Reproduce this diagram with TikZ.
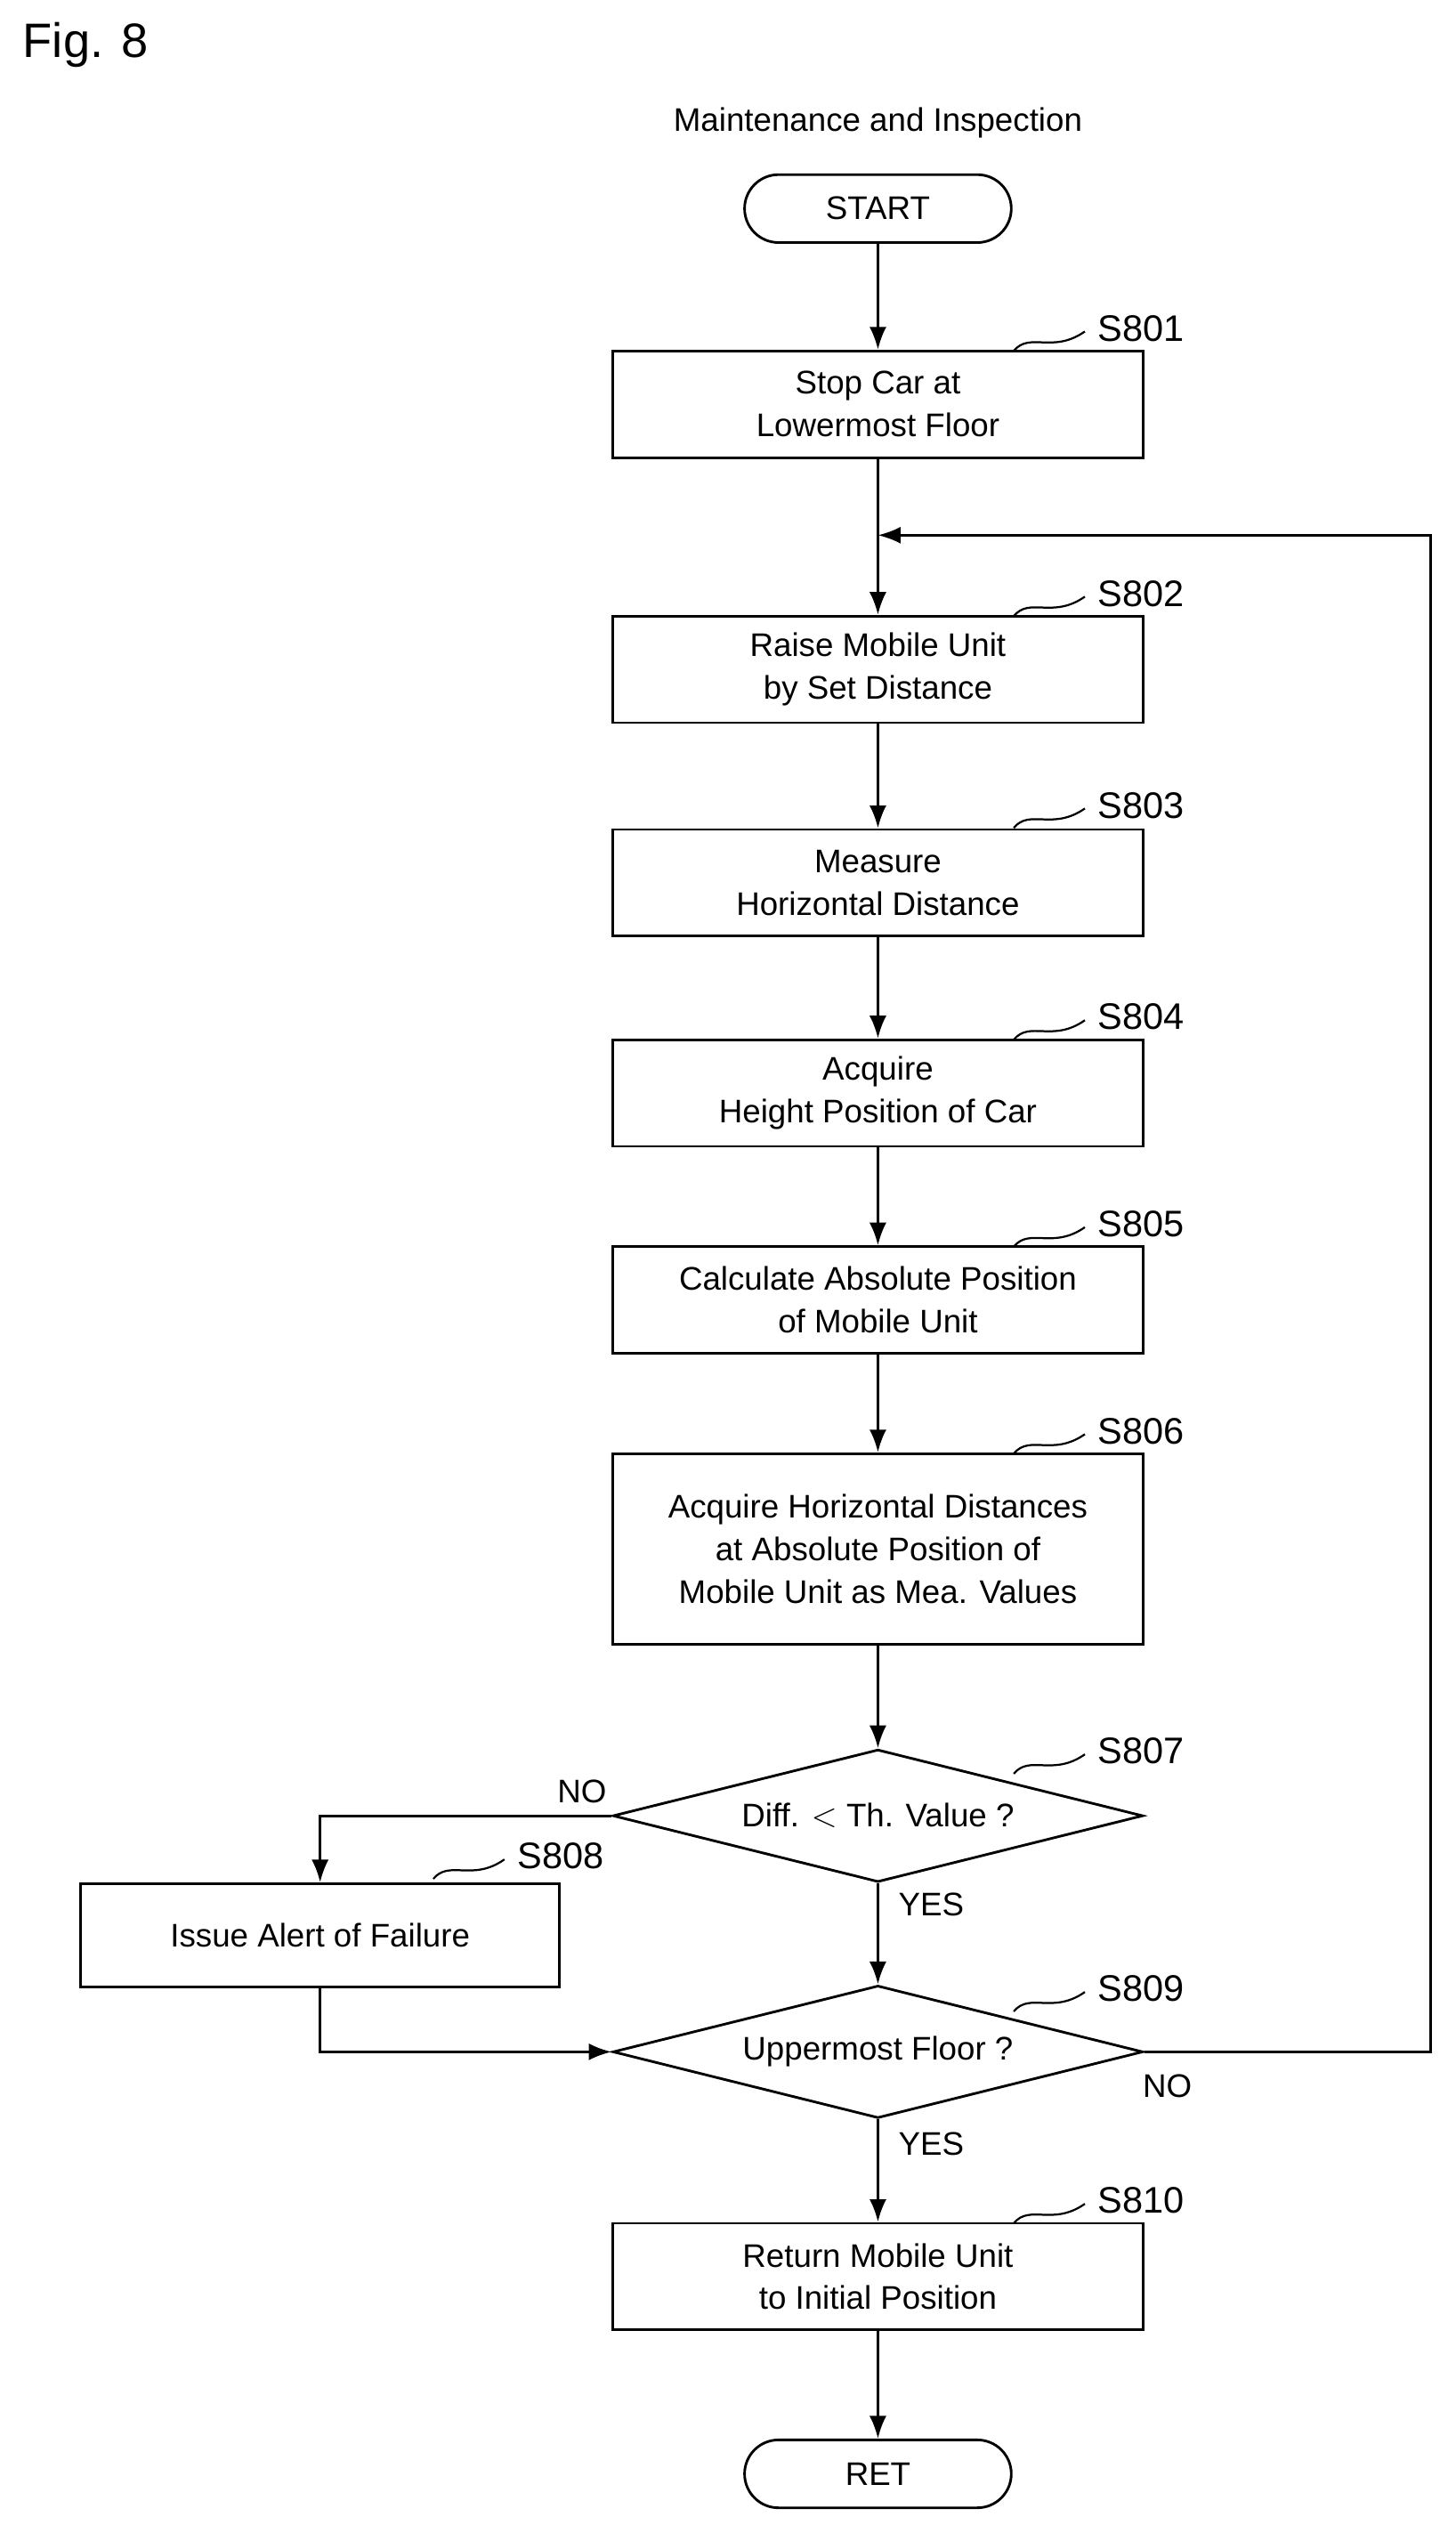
\documentclass[tikz,border=0pt]{standalone}
\usepackage{fontspec}
\setmainfont{Liberation Sans}
\usetikzlibrary{shapes.geometric,arrows.meta}
\begin{document}
\begin{tikzpicture}[x=0.02cm,y=-0.02cm,
  every node/.style={font=\fontsize{11.5}{15}\selectfont},
  box/.style={draw,line width=0.9pt,minimum width=6.56cm,minimum height=1.32cm,align=center,inner sep=0pt},
  term/.style={draw,line width=0.9pt,rounded corners=0.42cm,minimum width=3.3cm,minimum height=0.84cm,inner sep=0pt},
  dia/.style={draw,line width=0.9pt,diamond,aspect=4,minimum width=6.56cm,minimum height=1.64cm,inner sep=0pt},
  arr/.style={line width=0.9pt,-{Latex[length=8pt,width=6pt]}},
  ln/.style={line width=0.9pt},
  sq/.style={line width=0.7pt},
  lab/.style={anchor=west,font=\fontsize{13}{15}\selectfont}]
\useasboundingbox (0,0) rectangle (900,1566.6);
\node[anchor=west,font=\fontsize{17}{20}\selectfont] (fig) at (8,28) {Fig. 8};
\node (title) at (543,76) {Maintenance and Inspection};
\node[term] (start) at (543,129) {START};
\node[box] (s801) at (543,250) {Stop Car at\\Lowermost Floor};
\coordinate (join) at (543,331);
\node[box] (s802) at (543,414) {Raise Mobile Unit\\by Set Distance};
\node[box] (s803) at (543,546) {Measure\\Horizontal Distance};
\node[box] (s804) at (543,676) {Acquire\\Height Position of Car};
\node[box] (s805) at (543,804) {Calculate Absolute Position\\of Mobile Unit};
\node[box,minimum height=2.36cm] (s806) at (543,958) {Acquire Horizontal Distances\\at Absolute Position of\\Mobile Unit as Mea. Values};
\node[dia] (s807) at (543,1123) {Diff. $<$ Th. Value ?};
\node[box,minimum width=5.92cm,minimum height=1.28cm] (s808) at (198,1197) {Issue Alert of Failure};
\node[dia] (s809) at (543,1269) {Uppermost Floor ?};
\node[box] (s810) at (543,1408) {Return Mobile Unit\\to Initial Position};
\node[term] (ret) at (543,1530) {RET};
\coordinate (c807) at (198,1123);
\coordinate (c808) at (198,1269);
\coordinate (r1) at (885,1269);
\coordinate (r2) at (885,331);
% connectors
\draw[arr] (start) -- (s801);
\draw[arr] (s801) -- (s802);
\draw[arr] (s802) -- (s803);
\draw[arr] (s803) -- (s804);
\draw[arr] (s804) -- (s805);
\draw[arr] (s805) -- (s806);
\draw[arr] (s806) -- (s807);
\draw[arr] (s807) -- (s809);
\draw[arr] (s809) -- (s810);
\draw[arr] (s810) -- (ret);
\draw[arr] (s807.west) -- (c807) -- (s808);
\draw[arr] (s808) -- (c808) -- (s809.west);
\draw[arr] (s809.east) -- (r1) -- (r2) -- (join);
% branch labels
\node (no1) at (360,1108) {NO};
\node (yes1) at (576,1178) {YES};
\node (no2) at (722,1290) {NO};
\node (yes2) at (576,1326) {YES};
% step labels with squiggles
\foreach \n/\x/\y in {801/627/217,802/627/381,803/627/512,804/627/643,805/627/771,806/627/899,807/627/1097,809/627/1244,810/627/1375}{
  \draw[sq] (\x,\y) .. controls (\x+10,\y-12) and (\x+24,\y+2) .. (\x+44,\y-12);
  \node[lab] (l\n) at (\x+46,\y-14) {S\n};
}
\draw[sq] (268,1162) .. controls (278,1150) and (292,1164) .. (312,1150);
\node[lab] (l808) at (314,1148) {S808};
\end{tikzpicture}
\end{document}
